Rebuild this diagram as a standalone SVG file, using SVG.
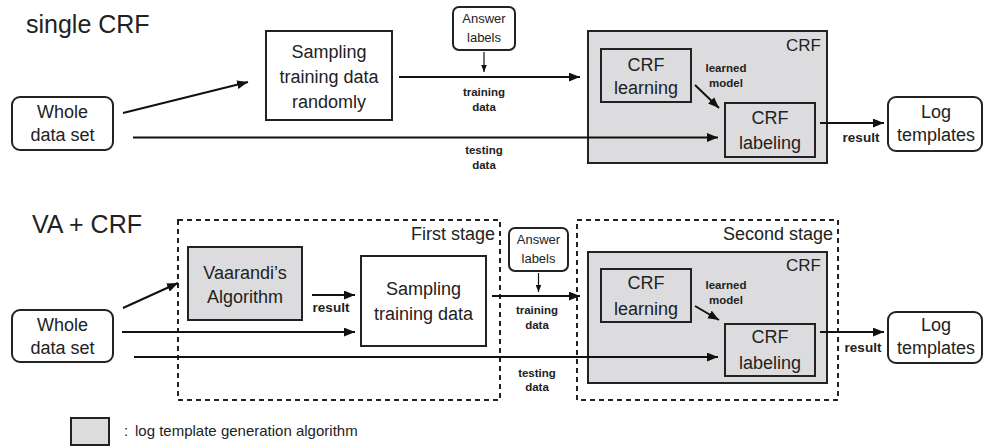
<svg xmlns="http://www.w3.org/2000/svg" width="984" height="446" viewBox="0 0 984 446">
<defs>
<style>
text{font-family:"Liberation Sans",Arial,sans-serif;fill:#222;}
.n{font-size:18px;text-anchor:middle;}
.t{font-size:25px;}
.st{font-size:18px;text-anchor:end;}
.crf{font-size:17px;text-anchor:end;}
.ans{font-size:13px;text-anchor:middle;}
.s{font-size:11.5px;font-weight:bold;text-anchor:middle;}
.r{font-size:13.5px;font-weight:bold;text-anchor:middle;}
.box{fill:#fff;stroke:#222;stroke-width:2;}
.gray{fill:#dcdcde;stroke:#222;stroke-width:2;}
.round{fill:#fff;stroke:#222;stroke-width:2;}
.dash{fill:none;stroke:#222;stroke-width:2;stroke-dasharray:5,4;}
.ln{fill:none;stroke:#111;stroke-width:2;}
.thin{fill:none;stroke:#111;stroke-width:1.2;}
</style>
<marker id="arr" viewBox="0 0 10 8" refX="10" refY="4" markerWidth="11" markerHeight="9" markerUnits="userSpaceOnUse" orient="auto">
<path d="M0,0 L10,4 L0,8 z" fill="#111"/>
</marker>
<marker id="arrs" viewBox="0 0 10 8" refX="10" refY="4" markerWidth="7" markerHeight="6" markerUnits="userSpaceOnUse" orient="auto">
<path d="M0,0 L10,4 L0,8 z" fill="#111"/>
</marker>
</defs>

<text class="t" x="26" y="33">single CRF</text>
<text class="t" x="32" y="233">VA + CRF</text>

<!-- stages -->
<g id="first-stage">
<rect class="dash" x="178" y="220" width="322" height="180"/>
<text class="st" x="495" y="240">First stage</text>
</g>
<g id="second-stage">
<rect class="dash" x="577" y="220" width="261" height="180"/>
<text class="st" x="833" y="240">Second stage</text>
</g>

<!-- top nodes -->
<g id="whole1">
<rect class="round" x="12" y="97" width="101" height="53" rx="8"/>
<text class="n" x="62.5" y="118">Whole</text>
<text class="n" x="62.5" y="141">data set</text>
</g>
<g id="sampling1">
<rect class="box" x="266" y="31" width="126" height="89"/>
<text class="n" x="329" y="58">Sampling</text>
<text class="n" x="329" y="83">training data</text>
<text class="n" x="329" y="108">randomly</text>
</g>
<g id="answer1">
<rect class="round" x="453" y="7" width="62" height="43" rx="6"/>
<text class="ans" x="484" y="22.5">Answer</text>
<text class="ans" x="484" y="41.5">labels</text>
</g>
<g id="crf1">
<rect class="gray" x="588" y="31" width="239" height="132"/>
<text class="crf" x="821" y="51">CRF</text>
</g>
<g id="crflearn1">
<rect class="gray" x="601" y="49" width="90" height="53"/>
<text class="n" x="646" y="71">CRF</text>
<text class="n" x="646" y="94">learning</text>
</g>
<g id="crflabel1">
<rect class="gray" x="725" y="103" width="90" height="54"/>
<text class="n" x="770" y="124">CRF</text>
<text class="n" x="770" y="149">labeling</text>
</g>
<g id="log1">
<rect class="round" x="888" y="97" width="94" height="54" rx="8"/>
<text class="n" x="936" y="118">Log</text>
<text class="n" x="936" y="141">templates</text>
</g>

<!-- bottom nodes -->
<g id="whole2">
<rect class="round" x="12" y="310" width="101" height="52" rx="8"/>
<text class="n" x="62.5" y="331">Whole</text>
<text class="n" x="62.5" y="354">data set</text>
</g>
<g id="vaarandi">
<rect class="gray" x="188" y="247" width="114" height="73"/>
<text class="n" x="245" y="279">Vaarandi’s</text>
<text class="n" x="245" y="303">Algorithm</text>
</g>
<g id="sampling2">
<rect class="box" x="361" y="256" width="125" height="90"/>
<text class="n" x="423.5" y="295">Sampling</text>
<text class="n" x="423.5" y="320">training data</text>
</g>
<g id="answer2">
<rect class="round" x="509" y="228" width="59" height="43" rx="6"/>
<text class="ans" x="538.5" y="243.5">Answer</text>
<text class="ans" x="538.5" y="262.5">labels</text>
</g>
<g id="crf2">
<rect class="gray" x="588" y="252" width="239" height="131"/>
<text class="crf" x="821" y="271">CRF</text>
</g>
<g id="crflearn2">
<rect class="gray" x="601" y="269" width="90" height="53"/>
<text class="n" x="646" y="289">CRF</text>
<text class="n" x="646" y="315">learning</text>
</g>
<g id="crflabel2">
<rect class="gray" x="725" y="324" width="90" height="52"/>
<text class="n" x="770" y="343">CRF</text>
<text class="n" x="770" y="369">labeling</text>
</g>
<g id="log2">
<rect class="round" x="888" y="312" width="94" height="51" rx="8"/>
<text class="n" x="936" y="331">Log</text>
<text class="n" x="936" y="354">templates</text>
</g>

<!-- connectors -->
<g id="connectors">
<line class="ln" x1="123" y1="113" x2="248" y2="82" marker-end="url(#arr)"/>
<line class="ln" x1="399" y1="77" x2="580" y2="77" marker-end="url(#arr)"/>
<line class="thin" x1="484" y1="52" x2="484" y2="72" marker-end="url(#arrs)"/>
<line class="ln" x1="133" y1="137.5" x2="718" y2="137.5" marker-end="url(#arr)"/>
<line class="ln" x1="695" y1="85" x2="719" y2="108" marker-end="url(#arr)"/>
<line class="ln" x1="820" y1="123" x2="884" y2="123" marker-end="url(#arr)"/>

<line class="ln" x1="123" y1="308" x2="178" y2="283" marker-end="url(#arr)"/>
<line class="ln" x1="312" y1="295" x2="355" y2="295" marker-end="url(#arr)"/>
<line class="ln" x1="122" y1="332" x2="355" y2="332" marker-end="url(#arr)"/>
<line class="ln" x1="492" y1="296" x2="580" y2="296" marker-end="url(#arr)"/>
<line class="thin" x1="538.5" y1="273" x2="538.5" y2="292" marker-end="url(#arrs)"/>
<line class="ln" x1="134" y1="357" x2="718" y2="357" marker-end="url(#arr)"/>
<line class="ln" x1="695" y1="306" x2="719" y2="320" marker-end="url(#arr)"/>
<line class="ln" x1="820" y1="332" x2="884" y2="332" marker-end="url(#arr)"/>

<text class="s" x="484" y="96">training</text>
<text class="s" x="484" y="111">data</text>
<text class="s" x="484" y="154">testing</text>
<text class="s" x="484" y="169">data</text>
<text class="s" x="726" y="72">learned</text>
<text class="s" x="726" y="87">model</text>
<text class="r" x="861" y="142">result</text>

<text class="r" x="331" y="312">result</text>
<text class="s" x="537" y="314">training</text>
<text class="s" x="537" y="329">data</text>
<text class="s" x="537" y="377">testing</text>
<text class="s" x="537" y="391">data</text>
<text class="s" x="726" y="289">learned</text>
<text class="s" x="726" y="304">model</text>
<text class="r" x="863" y="352">result</text>
</g>

<!-- legend -->
<g id="legend">
<rect class="gray" x="71" y="418" width="38" height="27"/>
<text x="124" y="436" style="font-size:15px">:</text>
<text x="135" y="436" style="font-size:15px">log template generation algorithm</text>
</g>
</svg>
